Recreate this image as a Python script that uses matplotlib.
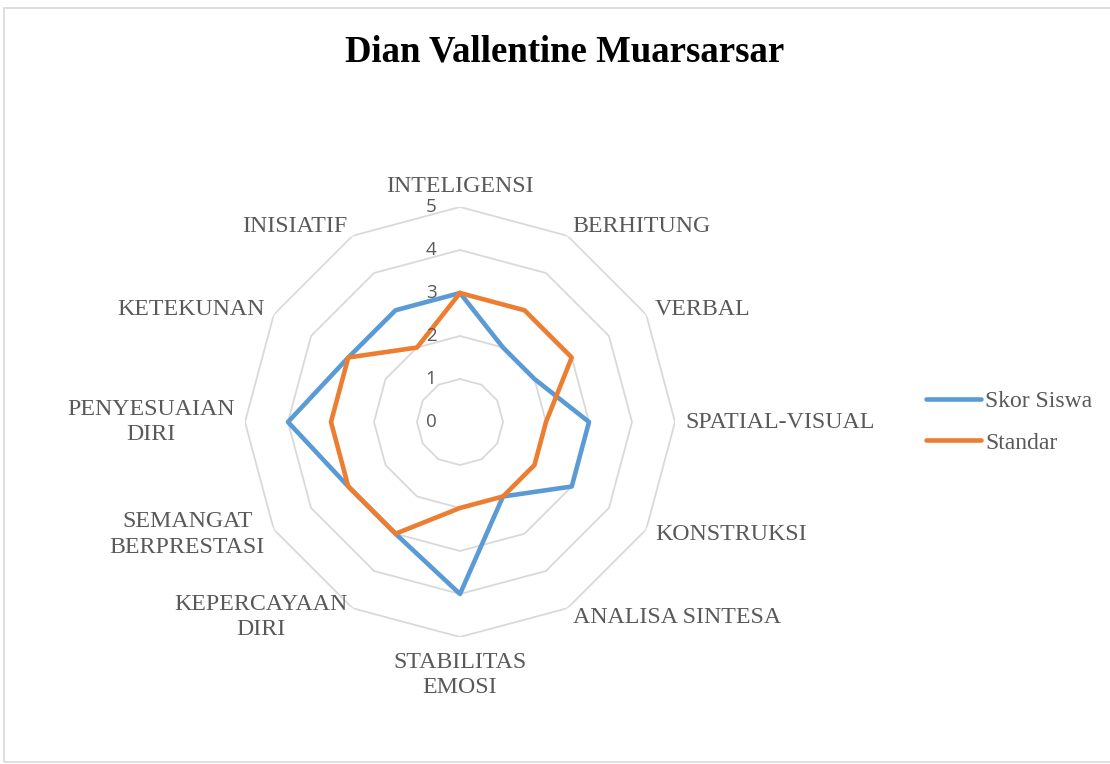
import numpy as np
import matplotlib
matplotlib.use("Agg")
import matplotlib.pyplot as plt
from matplotlib.patches import Rectangle

title = "Dian Vallentine Muarsarsar"
categories = ["INTELIGENSI", "BERHITUNG", "VERBAL", "SPATIAL-VISUAL", "KONSTRUKSI",
              "ANALISA SINTESA", "STABILITAS\nEMOSI", "KEPERCAYAAN\nDIRI",
              "SEMANGAT\nBERPRESTASI", "PENYESUAIAN\nDIRI", "KETEKUNAN", "INISIATIF"]
skor_siswa = [3, 2, 2, 3, 3, 2, 4, 3, 3, 4, 3, 3]
standar = [3, 3, 3, 2, 2, 2, 2, 3, 3, 3, 3, 2]
series_names = ["Skor Siswa", "Standar"]
ticks = [0, 1, 2, 3, 4, 5]

BLUE = "#5B9BD5"
ORANGE = "#ED7D31"
GRID = "#D9D9D9"
TXT = "#595959"

W, H = 1110, 764
fig = plt.figure(figsize=(W / 100, H / 100), dpi=100)
fig.patches.append(Rectangle((4 / W, 1 - 762 / H), 1.2, (762 - 8) / H,
                             transform=fig.transFigure, fill=False,
                             edgecolor="#D9D9D9", lw=1.2))

cx, cy, R = 460, 422, 215
ax = fig.add_axes([(cx - R) / W, 1 - (cy + R) / H, 2 * R / W, 2 * R / H], projection="polar")
ax.set_theta_zero_location("N")
ax.set_theta_direction(-1)
ax.set_ylim(0, 5)
ax.axis("off")

n = len(categories)
theta = np.linspace(0, 2 * np.pi, n, endpoint=False)
tc = np.append(theta, theta[0])

# polygon grid rings
for t in ticks[1:]:
    ax.plot(tc, [t] * (n + 1), color=GRID, lw=1.3, zorder=1)

l1, = ax.plot(tc, skor_siswa + [skor_siswa[0]], color=BLUE, lw=3.3, zorder=3,
              solid_joinstyle="round", solid_capstyle="round")
l2, = ax.plot(tc, standar + [standar[0]], color=ORANGE, lw=3.3, zorder=4,
              solid_joinstyle="round", solid_capstyle="round")

# radial tick labels
for t in ticks:
    ax.annotate(str(t), xy=(0, t), xytext=(-17, 0), textcoords="offset points",
                ha="right", va="center", fontsize=13.5, color=TXT,
                family="Open Sans", zorder=5)

# category labels
for th, lab in zip(theta, categories):
    s, c = np.sin(th), np.cos(th)
    off = 7.5
    dx, dy = off * s, off * c
    if abs(s) < 0.01:
        ha = "center"
        va = "bottom" if c > 0 else "top"
        if c < 0:
            dy -= 3
    elif s > 0:
        ha, va = "left", "center"
    else:
        ha, va = "right", "center"
    ax.annotate(lab, xy=(th, 5), xytext=(dx, dy), textcoords="offset points",
                ha=ha, va=va, multialignment="center", fontsize=17.2, color=TXT,
                family="Liberation Serif", linespacing=1.28)

fig.text(565 / W, 1 - 52 / H, title, ha="center", va="center",
         fontsize=26.5, fontweight="bold", family="Liberation Serif", color="black")

leg = fig.legend([l1, l2], series_names, loc="center left",
                 bbox_to_anchor=(905 / W, 1 - 422 / H), frameon=False,
                 prop={"family": "Liberation Serif", "size": 17},
                 handlelength=2.3, handletextpad=0.2, labelspacing=0.85)
for t in leg.get_texts():
    t.set_color(TXT)

fig.savefig("out.png", dpi=100)
